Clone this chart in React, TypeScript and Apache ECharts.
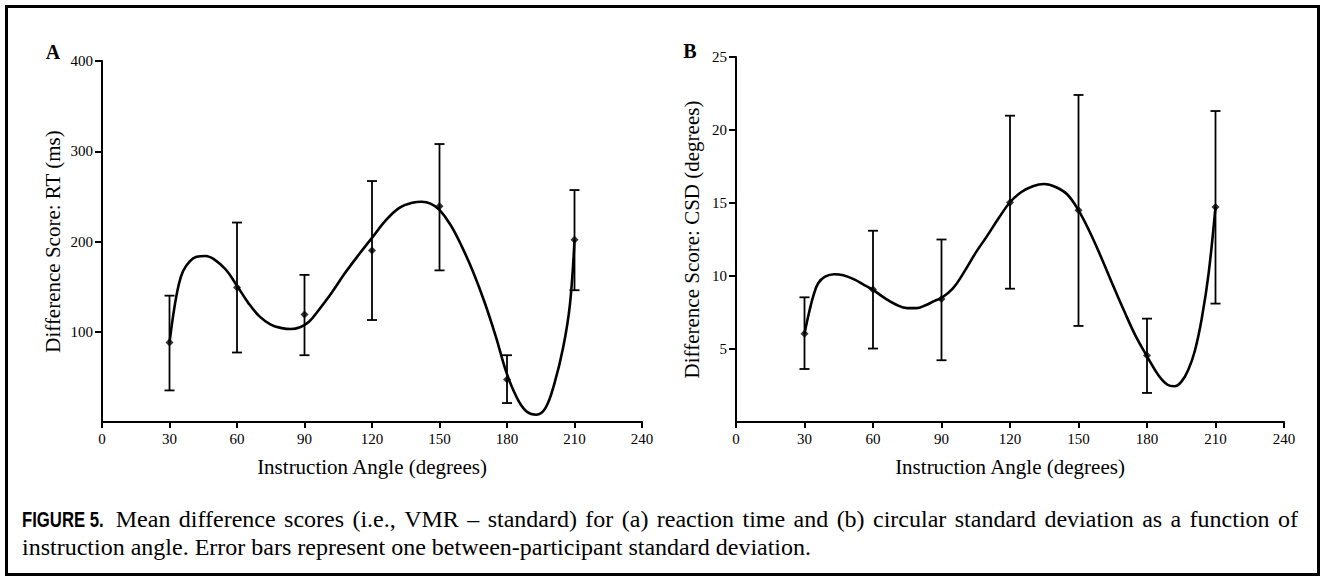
import React, { useEffect, useRef } from "react";
import * as echarts from "echarts";

// Measured points (instruction angle, degrees)
const angles = [30, 60, 90, 120, 150, 180, 210];

// Panel A: reaction time difference scores (ms)
const rtMean = [88, 149, 119, 190, 239, 47, 202];
const rtLow = [35, 77, 74, 113, 168, 21, 146];
const rtHigh = [140, 221, 163, 267, 308, 74, 257];

// Panel B: circular standard deviation difference scores (degrees)
const csdMean = [6.05, 9.07, 8.43, 15.03, 14.5, 4.55, 14.73];
const csdLow = [3.63, 5.03, 4.23, 9.13, 6.58, 1.99, 8.11];
const csdHigh = [8.54, 13.1, 12.5, 20.98, 22.4, 7.08, 21.3];

// Fitted curves
const rtCurveX = [30, 32, 34, 36, 39, 42, 46, 50, 55, 60, 65, 70, 75, 80, 84, 88, 92, 96, 102, 108, 114, 120, 126, 132, 138, 142, 146, 150, 155, 160, 165, 170, 175, 180, 185, 189, 193, 197, 201, 205, 208, 210];
const rtCurveY = [88, 124, 151, 167, 178, 183, 184, 180, 169, 151, 132, 117, 108, 104, 103, 105, 111, 123, 143, 165, 185, 204, 223, 237, 243, 244, 242, 235, 218, 194, 166, 133, 95, 53, 24, 11, 8, 15, 42, 83, 131, 202];

const csdCurveX = [30, 32, 34, 36, 39, 43, 47, 52, 56, 60, 65, 70, 75, 79, 83, 87, 90, 95, 100, 105, 110, 115, 120, 125, 130, 135, 140, 145, 150, 155, 160, 165, 170, 175, 180, 185, 189, 192, 195, 198, 201, 204, 207, 210];
const csdCurveY = [6.05, 7.5, 8.7, 9.5, 9.95, 10.12, 10.05, 9.75, 9.4, 9.05, 8.5, 8.05, 7.8, 7.8, 8.0, 8.3, 8.5, 9.15, 10.3, 11.6, 12.75, 13.95, 15.05, 15.75, 16.15, 16.3, 16.1, 15.6, 14.5, 13.0, 11.25, 9.4, 7.6, 5.9, 4.5, 3.2, 2.55, 2.45, 2.75, 3.55, 4.9, 7.1, 10.2, 14.73];

// Axis ticks / labels
const xMin = 0, xMax = 240, xStep = 30;
const rtMin = 0, rtMax = 400, rtStep = 100;
const csdMin = 0, csdMax = 25, csdStep = 5;
const xTitle = "Instruction Angle (degrees)";
const rtTitle = "Difference Score: RT (ms)";
const csdTitle = "Difference Score: CSD (degrees)";
const captionHead = "FIGURE 5.";
const captionLine1 = "Mean difference scores (i.e., VMR \u2013 standard) for (a) reaction time and (b) circular standard deviation as a function of";
const captionLine2 = "instruction angle. Error bars represent one between-participant standard deviation.";

const SERIF = "Liberation Serif";
const CAP_FONT = `24px "${SERIF}"`;
const HEAD_FONT = `bold 22px "Liberation Sans", sans-serif`;
const HEAD_SCALE = 0.76;

function xAxis(gridIndex: number) {
  return {
    type: "value",
    gridIndex,
    min: xMin,
    max: xMax,
    interval: xStep,
    name: xTitle,
    nameLocation: "middle",
    nameGap: 34,
    nameTextStyle: { fontFamily: SERIF, fontSize: 21, color: "#000" },
    axisLine: { show: true, onZero: false, lineStyle: { color: "#000", width: 2 } },
    axisTick: { show: true, length: 6, lineStyle: { color: "#000", width: 2 } },
    axisLabel: { fontFamily: SERIF, fontSize: 15, color: "#000", margin: 9 },
    splitLine: { show: false },
  };
}

function yAxis(gridIndex: number, min: number, max: number, step: number, name: string, gap: number) {
  return {
    type: "value",
    gridIndex,
    min,
    max,
    interval: step,
    name,
    nameLocation: "middle",
    nameGap: gap,
    nameTextStyle: { fontFamily: SERIF, fontSize: 21, color: "#000" },
    axisLine: { show: true, onZero: false, lineStyle: { color: "#000", width: 2 } },
    axisTick: { show: true, length: 7, lineStyle: { color: "#000", width: 2 } },
    axisLabel: { fontFamily: SERIF, fontSize: 15, color: "#000", margin: 9, showMinLabel: false },
    splitLine: { show: false },
  };
}

function errorBars(idx: number, lows: number[], highs: number[]) {
  return {
    type: "custom",
    xAxisIndex: idx,
    yAxisIndex: idx,
    data: angles.map((a, i) => [a, lows[i], highs[i]]),
    encode: { x: 0, y: [1, 2] },
    renderItem: (_params: any, api: any) => {
      const x = api.value(0);
      const lo = api.coord([x, api.value(1)]);
      const hi = api.coord([x, api.value(2)]);
      const hw = 5;
      const st = { stroke: "#000", lineWidth: 1.8 };
      return {
        type: "group",
        children: [
          { type: "line", shape: { x1: lo[0], y1: lo[1], x2: hi[0], y2: hi[1] }, style: st },
          { type: "line", shape: { x1: lo[0] - hw, y1: lo[1], x2: lo[0] + hw, y2: lo[1] }, style: st },
          { type: "line", shape: { x1: hi[0] - hw, y1: hi[1], x2: hi[0] + hw, y2: hi[1] }, style: st },
        ],
      };
    },
    z: 3,
  };
}

function curve(idx: number, xs: number[], ys: number[]) {
  return {
    type: "line",
    xAxisIndex: idx,
    yAxisIndex: idx,
    data: xs.map((x, i) => [x, ys[i]]),
    smooth: 0.4,
    showSymbol: false,
    lineStyle: { color: "#000", width: 2.6 },
    z: 4,
  };
}

function points(idx: number, ys: number[]) {
  return {
    type: "scatter",
    xAxisIndex: idx,
    yAxisIndex: idx,
    data: angles.map((a, i) => [a, ys[i]]),
    symbol: "diamond",
    symbolSize: 8,
    itemStyle: { color: "#000" },
    z: 5,
  };
}

function captionGraphics() {
  const cvs = document.createElement("canvas");
  const ctx = cvs.getContext("2d") as CanvasRenderingContext2D;
  ctx.font = HEAD_FONT;
  const headW = ctx.measureText(captionHead).width * HEAD_SCALE;
  ctx.font = CAP_FONT;
  const words = captionLine1.split(" ");
  const widths = words.map((w) => ctx.measureText(w).width);
  const total = widths.reduce((s, w) => s + w, 0);
  const startX = 22 + headW + 12;
  const endX = 1298;
  const gap = (endX - startX - total) / (words.length - 1);
  const y1 = 519;
  const y2 = 547;
  const out: any[] = [
    {
      type: "text",
      x: 22,
      y: y1,
      scaleX: HEAD_SCALE,
      style: { text: captionHead, font: HEAD_FONT, fill: "#000", align: "left", verticalAlign: "middle" },
    },
  ];
  let x = startX;
  words.forEach((w, i) => {
    out.push({
      type: "text",
      x,
      y: y1,
      style: { text: w, font: CAP_FONT, fill: "#000", align: "left", verticalAlign: "middle" },
    });
    x += widths[i] + gap;
  });
  out.push({
    type: "text",
    x: 22,
    y: y2,
    style: { text: captionLine2, font: CAP_FONT, fill: "#000", align: "left", verticalAlign: "middle" },
  });
  return out;
}

export default function App() {
  const ref = useRef<HTMLDivElement>(null);
  useEffect(() => {
    if (!ref.current) return;
    const chart = echarts.init(ref.current, null, { renderer: "svg" });
    chart.setOption({
      animation: false,
      backgroundColor: "#fff",
      grid: [
        { left: 102, top: 61, width: 540, height: 361, containLabel: false },
        { left: 736, top: 57, width: 548, height: 365, containLabel: false },
      ],
      xAxis: [xAxis(0), xAxis(1)],
      yAxis: [
        yAxis(0, rtMin, rtMax, rtStep, rtTitle, 39),
        yAxis(1, csdMin, csdMax, csdStep, csdTitle, 34),
      ],
      series: [
        errorBars(0, rtLow, rtHigh),
        curve(0, rtCurveX, rtCurveY),
        points(0, rtMean),
        errorBars(1, csdLow, csdHigh),
        curve(1, csdCurveX, csdCurveY),
        points(1, csdMean),
      ],
      graphic: [
        {
          type: "rect",
          shape: { x: 6.5, y: 6.5, width: 1312, height: 568 },
          style: { fill: "none", stroke: "#000", lineWidth: 3 },
          silent: true,
        },
        {
          type: "text",
          x: 53,
          y: 52,
          style: { text: "A", font: `bold 20px "${SERIF}"`, fill: "#000", align: "center", verticalAlign: "middle" },
        },
        {
          type: "text",
          x: 690,
          y: 51,
          style: { text: "B", font: `bold 20px "${SERIF}"`, fill: "#000", align: "center", verticalAlign: "middle" },
        },
        ...captionGraphics(),
      ],
    });
    return () => chart.dispose();
  }, []);
  return <div ref={ref} style={{ position: "absolute", left: 0, top: 0, width: 1325, height: 581 }} />;
}
